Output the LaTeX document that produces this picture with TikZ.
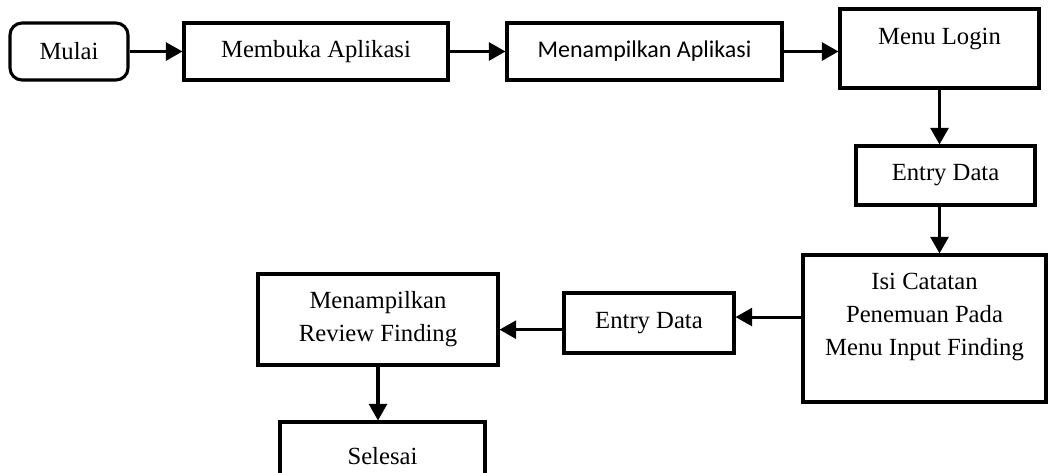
\documentclass[tikz,border=0pt]{standalone}
\usepackage{fontspec}
\setmainfont{Liberation Serif}
\newfontfamily\calfont{Carlito}
\usetikzlibrary{arrows.meta}
\begin{document}
\begin{tikzpicture}[x=0.75pt,y=-0.75pt,
  box/.style={draw, line width=2.3pt, rectangle, inner sep=0pt, align=center,
    font=\fontsize{18.5}{24.75}\selectfont},
  lbl/.style={align=center, font=\fontsize{18.5}{24.75}\selectfont},
  flow/.style={line width=2.3pt, -{Triangle[length=12.5pt,width=13.5pt]}}]
\useasboundingbox (0,0) rectangle (1048,472);
\clip (0,0) rectangle (1048,472);
\node[box, rounded corners=9pt, minimum width=88.5pt, minimum height=42.75pt] (mulai) at (69,51.5) {Mulai};
\node[box, minimum width=198pt, minimum height=42.75pt] (membuka) at (316,51.5) {Membuka Aplikasi};
\node[box, minimum width=206.25pt, minimum height=42.75pt, font=\calfont\fontsize{18}{24}\selectfont] (menapl) at (644.5,51.5) {Menampilkan Aplikasi};
\node[box, minimum width=149.25pt, minimum height=59.25pt,
  label={[lbl, yshift=7.5pt]center:Menu Login}] (ml) at (939.5,48.5) {};
\node[box, minimum width=134.25pt, minimum height=44.25pt] (ed1) at (945.5,175.5) {Entry Data};
\node[box, minimum width=182.25pt, minimum height=110.25pt,
  label={[lbl, yshift=9pt]center:{Isi Catatan\\Penemuan Pada\\Menu Input Finding}}] (isi) at (924.5,328.5) {};
\node[box, minimum width=127.5pt, minimum height=45pt] (ed2) at (649,323) {Entry Data};
\node[box, minimum width=180pt, minimum height=68.25pt] (rev) at (378,319.5) {Menampilkan\\Review Finding};
\node[box, minimum width=153.75pt, minimum height=51pt] (sel) at (382.5,456) {Selesai};
\coordinate (c1) at ([yshift=8.6pt]isi.west);
\coordinate (c2) at ([yshift=-5pt]ed2.west);
\draw[flow] (mulai.east) -- (membuka.west);
\draw[flow] (membuka.east) -- (menapl.west);
\draw[flow] (menapl.east) -- (ml.west |- menapl.east);
\draw[flow] (ml.south) -- (ml.south |- ed1.north);
\draw[flow] (ml.south |- ed1.south) -- (ml.south |- isi.north);
\draw[flow] (c1) -- (ed2.east |- c1);
\draw[flow] (c2) -- (rev.east |- c2);
\draw[flow] (rev.south) -- (rev.south |- sel.north);
\end{tikzpicture}
\end{document}
